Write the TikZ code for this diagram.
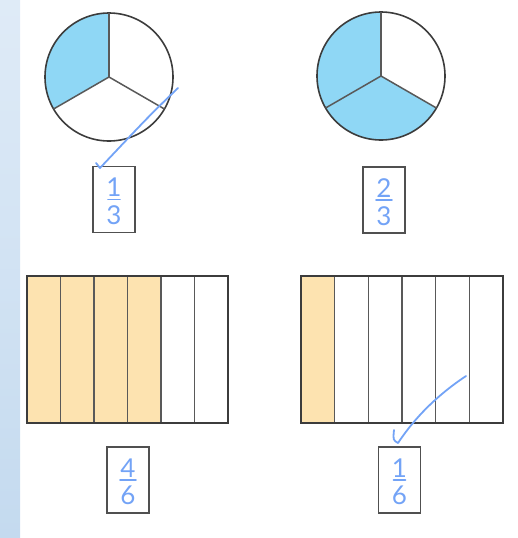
\documentclass[tikz,border=0pt]{standalone}
\usepackage{fontspec}
\setmainfont{Lato}
\definecolor{stripTop}{RGB}{223,235,247}
\definecolor{stripBot}{RGB}{196,218,239}
\definecolor{pieblue}{RGB}{143,215,245}
\definecolor{barorange}{RGB}{253,227,176}
\definecolor{penblue}{RGB}{115,163,246}
\definecolor{ink}{RGB}{60,60,60}
\tikzset{
  outline/.style={draw=ink, line width=1.6pt},
  divider/.style={draw=ink!85, line width=1.5pt},
  ansbox/.style={draw=ink!90, line width=1.5pt, minimum width=42pt, minimum height=66pt, inner sep=0pt},
  digit/.style={text=penblue, font=\fontsize{26}{26}\selectfont, inner sep=0pt},
  fracbar/.style={draw=penblue, line width=1.8pt, line cap=round},
  tick/.style={draw=penblue, line width=1.8pt, line cap=round, line join=round}
}
\begin{document}
\begin{tikzpicture}[x=1pt,y=-1pt]
\useasboundingbox (0,0) rectangle (518,538);
\shade[top color=stripTop, bottom color=stripBot] (0,0) rectangle (20,538);

% ---- pie 1/3
\coordinate (c1) at (109,77);
\fill[pieblue] (c1) -- (109,13) arc[start angle=270, end angle=150, radius=64] -- cycle;
\draw[outline] (c1) circle[radius=64];
\draw[divider] (c1) -- (109,13);
\draw[divider] (c1) -- ++(150:64);
\draw[divider] (c1) -- ++(30:64);

% ---- pie 2/3
\coordinate (c2) at (381,76);
\fill[pieblue] (c2) -- ++(30:64) arc[start angle=30, end angle=270, radius=64] -- cycle;
\draw[outline] (c2) circle[radius=64];
\draw[divider] (c2) -- ++(270:64);
\draw[divider] (c2) -- ++(150:64);
\draw[divider] (c2) -- ++(30:64);

% ---- bar 4/6
\foreach \i in {0,...,3} {\fill[barorange] (27+\i*33.5,276) rectangle (27+\i*33.5+33.5,423);}
\foreach \i in {1,...,5} {\draw[divider] (27+\i*33.5,276) -- (27+\i*33.5,423);}
\draw[outline] (27,276) rectangle (228,423);

% ---- bar 1/6
\fill[barorange] (301,276) rectangle (334.7,423);
\foreach \i in {1,...,5} {\draw[divider] (301+\i*33.67,276) -- (301+\i*33.67,423);}
\draw[outline] (301,276) rectangle (503,423);

% ---- answer boxes
\node[ansbox] (b1) at (114,199.5) {};
\node[ansbox] (b2) at (384,200) {};
\node[ansbox] (b3) at (128,480) {};
\node[ansbox] (b4) at (399.5,480) {};

\node[digit, anchor=south] (n1) at ([yshift=2.5pt]b1.center) {1};
\draw[fracbar] ([xshift=-6pt]b1.center) -- ([xshift=6pt]b1.center);
\node[digit, anchor=north] (d1) at ([yshift=-6pt]b1.center) {3};

\node[digit, anchor=south] (n2) at ([yshift=2.5pt]b2.center) {2};
\draw[fracbar] ([xshift=-8pt]b2.center) -- ([xshift=8pt]b2.center);
\node[digit, anchor=north] (d2) at ([yshift=-6pt]b2.center) {3};

\node[digit, anchor=south] (n3) at ([yshift=2.5pt]b3.center) {4};
\draw[fracbar] ([xshift=-8pt]b3.center) -- ([xshift=8pt]b3.center);
\node[digit, anchor=north] (d3) at ([yshift=-6pt]b3.center) {6};

\node[digit, anchor=south] (n4) at ([yshift=2.5pt]b4.center) {1};
\draw[fracbar] ([xshift=-6pt]b4.center) -- ([xshift=6pt]b4.center);
\node[digit, anchor=north] (d4) at ([yshift=-6pt]b4.center) {6};

% ---- ticks
\coordinate (t1s) at (178,88);
\coordinate (t1e) at (100,168);
\coordinate (t1h) at (96,163);
\draw[tick] (t1s) .. controls (150,115) .. (t1e) -- (t1h);

\coordinate (t2s) at (466,376);
\coordinate (t2e) at (398,443);
\coordinate (t2h) at (394,430);
\draw[tick] (t2s) .. controls (430,400) and (410,425) .. (t2e) .. controls (393,440) .. (t2h);
\end{tikzpicture}
\end{document}
